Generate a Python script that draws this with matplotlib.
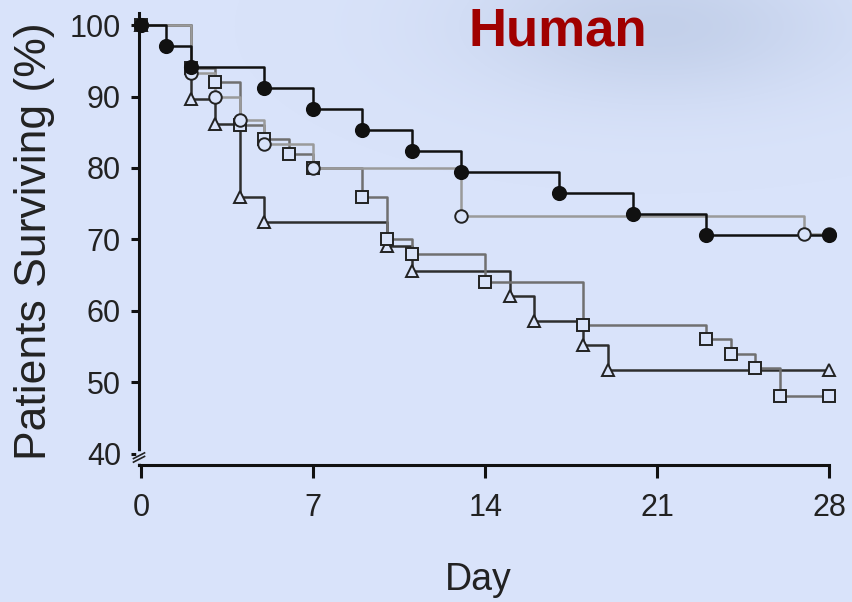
import numpy as np
import matplotlib
matplotlib.use("Agg")
import matplotlib.pyplot as plt
import matplotlib.transforms as mtransforms

#------------- data -----------
days_filled = [0, 1, 2, 5, 7, 9, 11, 13, 17, 20, 23, 28]
surv_filled = [100, 97.1, 94.1, 91.2, 88.2, 85.3, 82.4, 79.4, 76.5, 73.5, 70.6, 70.6]

days_open = [0, 2, 3, 4, 5, 7, 13, 27, 28]
surv_open = [100, 93.3, 90.0, 86.7, 83.3, 80.0, 73.3, 70.7, 70.7]

days_square = [0, 2, 3, 4, 5, 6, 7, 9, 10, 11, 14, 18, 23, 24, 25, 26, 28]
surv_square = [100, 94, 92, 86, 84, 82, 80, 76, 70, 68, 64, 58, 56, 54, 52, 48, 48]

days_tri = [0, 2, 3, 4, 5, 10, 11, 15, 16, 18, 19, 28]
surv_tri = [100, 89.7, 86.2, 75.9, 72.4, 69.0, 65.5, 62.1, 58.6, 55.2, 51.7, 51.7]

x_ticks = [0, 7, 14, 21, 28]
y_ticks = [40, 50, 60, 70, 80, 90, 100]

#------------- styling -----------
BG = "#d9e3fa"
FONT = ["Liberation Sans", "DejaVu Sans"]
INK = "#222222"

fig = plt.figure(figsize=(8.53, 6.02), dpi=100)
fig.patch.set_facecolor(BG)

# soft grey-blue cloud in the upper right of the slide background
bg_ax = fig.add_axes([0, 0, 1, 1], zorder=-10)
gx, gy = np.meshgrid(np.linspace(0, 853, 300), np.linspace(0, 602, 220))
blob = np.exp(-(((gx - 660) / 190) ** 2 + ((gy - 25) / 75) ** 2))
img = np.zeros(gx.shape + (4,))
img[..., 0] = 0.71
img[..., 1] = 0.77
img[..., 2] = 0.88
img[..., 3] = 0.6 * blob
bg_ax.imshow(img, extent=(0, 853, 602, 0), aspect="auto", interpolation="bilinear")
bg_ax.set_xlim(0, 853)
bg_ax.set_ylim(602, 0)
bg_ax.axis("off")

ax = fig.add_axes([139 / 853, 1 - 465 / 602, 690 / 853, 452 / 602])
ax.set_facecolor("none")

# ------------ survival curves -------------
series = [
    (days_tri, surv_tri, "#2e2e2e", "^", 9),
    (days_square, surv_square, "#707070", "s", 8.5),
    (days_open, surv_open, "#9a9a9a", "o", 9),
    (days_filled, surv_filled, "#111111", "o", 9.5),
]
for i, (d, s, col, mk, ms) in enumerate(series):
    ax.step(d, s, where="post", color=col, lw=1.8, zorder=2 + i)
    filled = i == 3
    ax.plot(d, s, linestyle="none", marker=mk, markersize=ms,
            markerfacecolor=col if filled else BG,
            markeredgecolor=col if filled else INK,
            markeredgewidth=1.4, zorder=6 + i, clip_on=False)

# ------------ axes -------------
ax.set_xlim(-0.1, 28)
ax.set_ylim(38.4, 101.7)
ax.set_xticks(x_ticks)
ax.set_yticks(y_ticks)
for side in ["top", "right"]:
    ax.spines[side].set_visible(False)
for side in ["left", "bottom"]:
    ax.spines[side].set_linewidth(2.2)
    ax.spines[side].set_color("#111111")
ax.tick_params(axis="y", direction="out", length=6, width=2.2, color="#111111", pad=7)
ax.tick_params(axis="x", direction="out", length=9, width=2.2, color="#111111", pad=11)
for lab in ax.get_xticklabels() + ax.get_yticklabels():
    lab.set_family(FONT)
    lab.set_fontsize(22)
    lab.set_color(INK)

# axis break on the y axis
trans = mtransforms.blended_transform_factory(ax.transAxes, ax.transData)
ax.plot([0, 0], [38.9, 39.9], color=BG, lw=4, transform=trans, clip_on=False, zorder=20)
for yb in (39.2, 39.7):
    ax.plot([-0.008, 0.008], [yb - 0.4, yb + 0.4], color=INK, lw=1.2,
            transform=trans, clip_on=False, zorder=21)

# ------------ labels -------------
fig.text(35 / 853, 1 - 241 / 602, "Patients Surviving (%)", rotation=90,
         ha="center", va="center", fontsize=32, family=FONT, color=INK)
fig.text(478 / 853, 1 - 580 / 602, "Day", ha="center", va="center",
         fontsize=27, family=FONT, color=INK)
fig.text(558 / 853, 1 - 31 / 602, "Human", ha="center", va="center",
         fontsize=38, fontweight="bold", family=FONT, color="#a00000")

fig.savefig("out.png", dpi=100, facecolor=BG)
